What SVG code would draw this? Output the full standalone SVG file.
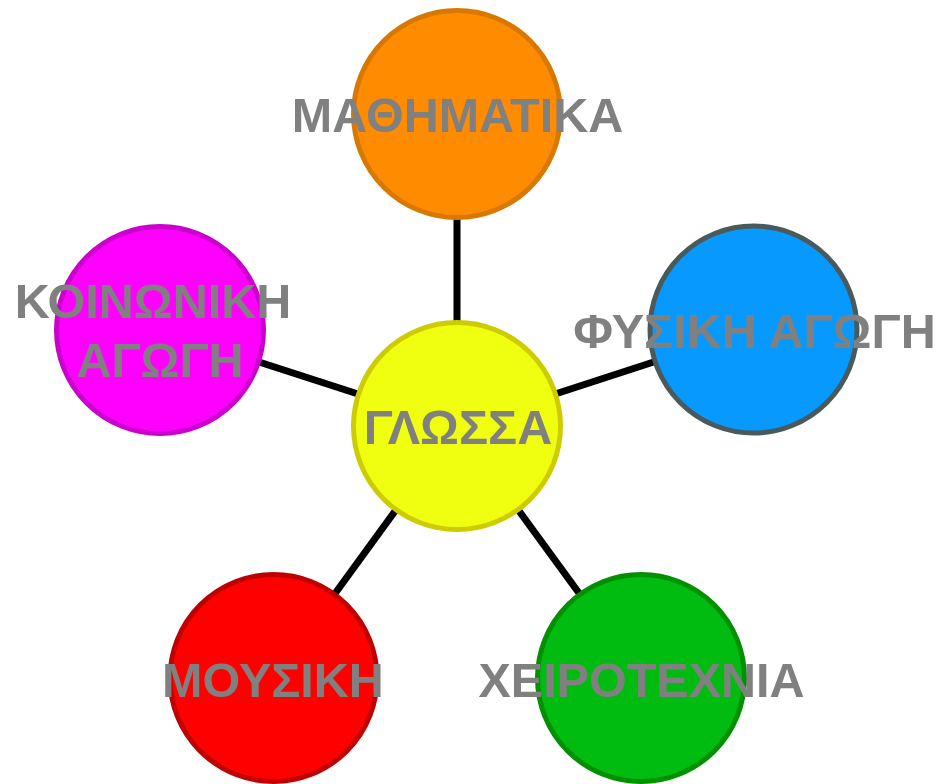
<svg xmlns="http://www.w3.org/2000/svg" width="936" height="784" viewBox="0 0 936 784">
<style>
.n{stroke-width:5}
.t{font-family:"Liberation Sans",Arial,sans-serif;font-weight:bold;font-size:48.5px;fill:#808080;text-anchor:middle}
.c{stroke:#000;stroke-width:7;fill:none}
</style>
<rect width="936" height="784" fill="#fff"/>
<g id="connectors">
<line class="c" x1="457" y1="426" x2="457" y2="114"/>
<line class="c" x1="457" y1="426" x2="753.5" y2="329.5"/>
<line class="c" x1="457" y1="426" x2="160" y2="330"/>
<line class="c" x1="457" y1="426" x2="273.5" y2="678"/>
<line class="c" x1="457" y1="426" x2="641" y2="678"/>
</g>
<g id="math">
<circle class="n" cx="457" cy="114" r="103.5" fill="#FF8C00" stroke="#D97800"/>
<text class="t" x="457.5" y="132">ΜΑΘΗΜΑΤΙΚΑ</text>
</g>
<g id="physical">
<circle class="n" cx="753.5" cy="329.5" r="103.5" fill="#0899FF" stroke="#4A5A5A"/>
<text class="t" x="754.5" y="348">ΦΥΣΙΚΗ ΑΓΩΓΗ</text>
</g>
<g id="social">
<circle class="n" cx="160" cy="330" r="103.5" fill="#FF00FF" stroke="#CC00CC"/>
<text class="t" x="153" y="318">ΚΟΙΝΩΝΙΚΗ</text>
<text class="t" x="160" y="377">ΑΓΩΓΗ</text>
</g>
<g id="language">
<circle class="n" cx="457" cy="426" r="103.5" fill="#F0FF10" stroke="#CCCC00"/>
<text class="t" x="458" y="444">ΓΛΩΣΣΑ</text>
</g>
<g id="music">
<circle class="n" cx="273.5" cy="678" r="103.5" fill="#FF0000" stroke="#C00000"/>
<text class="t" x="273" y="697">ΜΟΥΣΙΚΗ</text>
</g>
<g id="crafts">
<circle class="n" cx="641" cy="678" r="103.5" fill="#00BB10" stroke="#009000"/>
<text class="t" x="641.5" y="697">ΧΕΙΡΟΤΕΧΝΙΑ</text>
</g>
</svg>
